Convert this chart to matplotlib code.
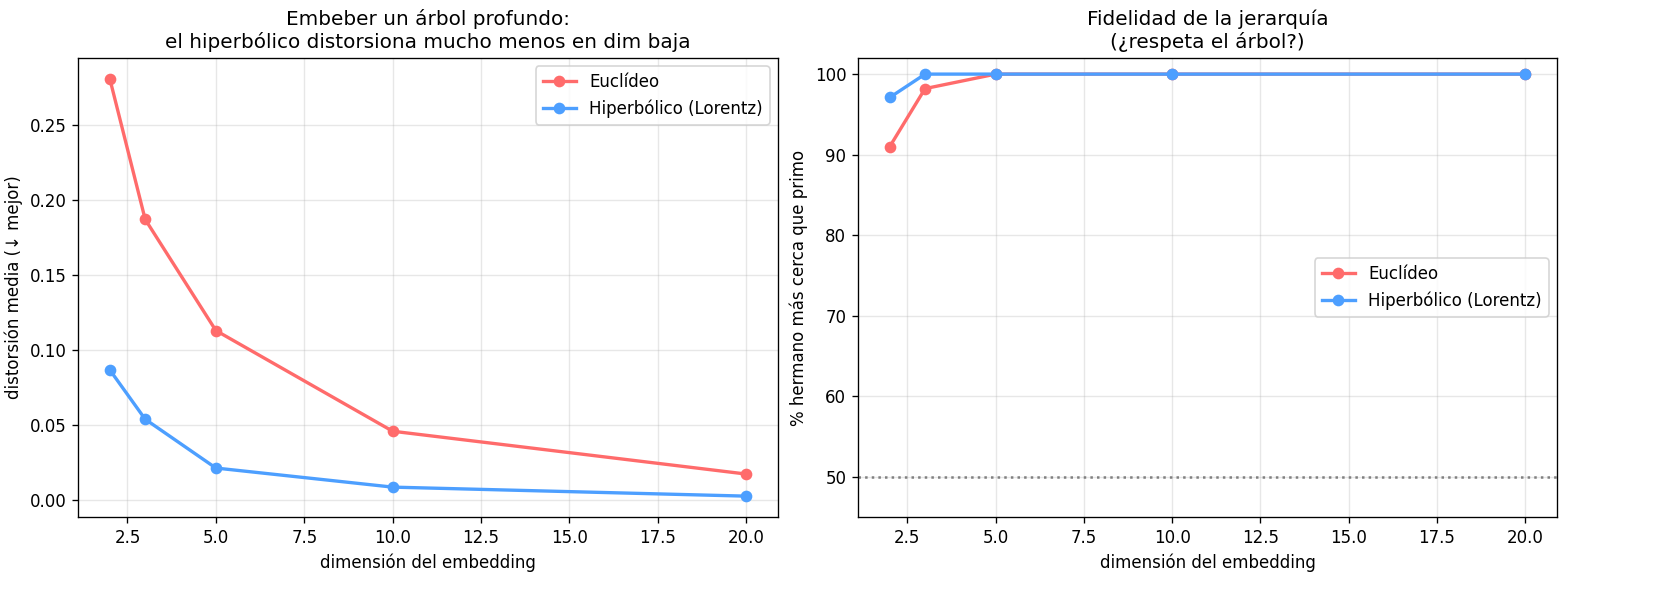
import matplotlib
matplotlib.use("Agg")
import matplotlib.pyplot as plt

dims = [2, 3, 5, 10, 20]

# distorsion media
dist_euc = [0.2805, 0.187, 0.113, 0.046, 0.0175]
dist_hyp = [0.0868, 0.054, 0.0215, 0.0088, 0.0028]

# % hermano mas cerca que primo
fid_euc = [91.0, 98.2, 100.0, 100.0, 100.0]
fid_hyp = [97.1, 100.0, 100.0, 100.0, 100.0]

c_euc = '#ff6b6b'
c_hyp = '#4d9fff'

fig = plt.figure(figsize=(1666/120, 610/120), dpi=120)
ax1 = fig.add_axes([78/1666, 1-517/610, 700/1666, 459/610])
ax2 = fig.add_axes([858/1666, 1-517/610, 699/1666, 459/610])

ax1.plot(dims, dist_euc, 'o-', color=c_euc, linewidth=2, label='Euclídeo')
ax1.plot(dims, dist_hyp, 'o-', color=c_hyp, linewidth=2, label='Hiperbólico (Lorentz)')
ax1.set_xlabel('dimensión del embedding')
ax1.set_ylabel('distorsión media (↓ mejor)')
ax1.set_title('Embeber un árbol profundo:\nel hiperbólico distorsiona mucho menos en dim baja', fontsize=12)
ax1.grid(alpha=0.3)
ax1.legend()

ax2.plot(dims, fid_euc, 'o-', color=c_euc, linewidth=2, label='Euclídeo')
ax2.plot(dims, fid_hyp, 'o-', color=c_hyp, linewidth=2, label='Hiperbólico (Lorentz)')
ax2.axhline(50, color='gray', linestyle=':', linewidth=1.5)
ax2.set_ylim(45, 102)
ax2.set_xlabel('dimensión del embedding')
ax2.set_ylabel('% hermano más cerca que primo')
ax2.set_title('Fidelidad de la jerarquía\n(¿respeta el árbol?)', fontsize=12)
ax2.grid(alpha=0.3)
ax2.legend(loc='center right')

fig.savefig('out.png', dpi=120)
